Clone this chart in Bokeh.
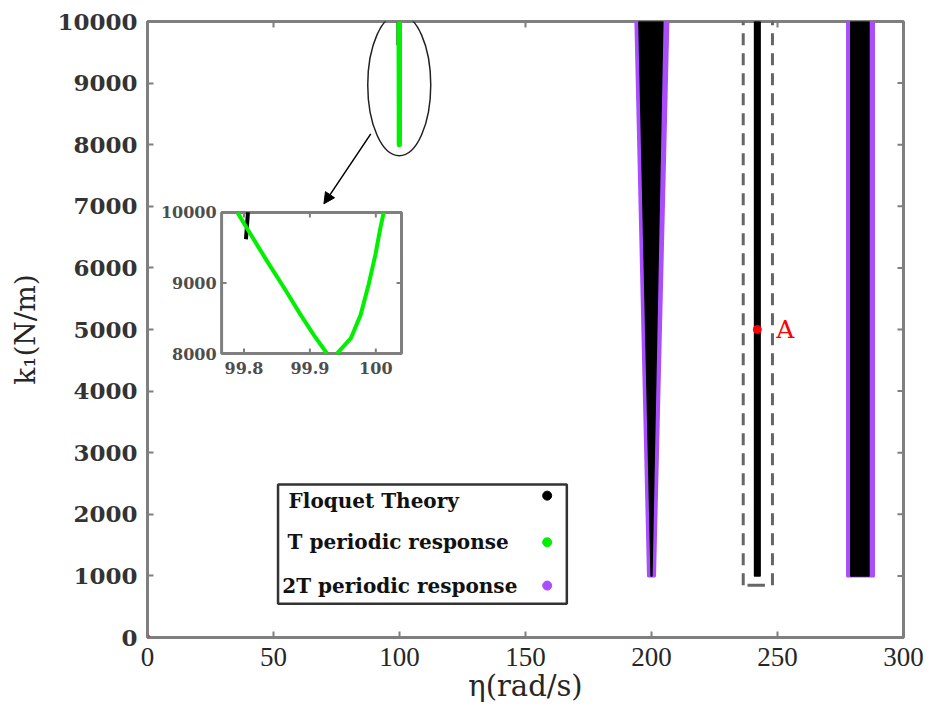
from bokeh.plotting import figure
from bokeh.models import Range1d, FixedTicker, Arrow, NormalHead, Label
from bokeh.core.properties import value
from bokeh.embed import file_html
from bokeh.resources import INLINE

# ---------------- data ----------------
x_ticks = [0, 50, 100, 150, 200, 250, 300]
y_ticks = [0, 1000, 2000, 3000, 4000, 5000, 6000, 7000, 8000, 9000, 10000]

# k1 at the lower and upper end of each unstable region
k_span = [1000, 10000]

# region around 200 rad/s: Floquet-unstable wedge and its 2T-periodic boundary
w200_floquet_left = [199.85, 195.0]
w200_floquet_right = [200.15, 204.5]
w200_2T_left = [198.8, 193.8]
w200_2T_right = [201.2, 206.5]

# narrow Floquet strip around 242 rad/s
w242_floquet_left = [240.9, 240.9]
w242_floquet_right = [243.1, 243.1]

# region around 283 rad/s
w283_floquet_left = [279.1, 279.1]
w283_floquet_right = [286.3, 286.3]
w283_2T_left = [277.8, 277.8]
w283_2T_right = [288.1, 288.1]

# T-periodic response near 100 rad/s (two branches)
t_left_eta = [99.790, 99.810, 99.835, 99.861, 99.886, 99.906, 99.926]
t_left_k = [10000, 9690, 9310, 8929, 8548, 8262, 8000]
t_right_eta = [99.941, 99.962, 99.977, 99.989, 99.9995, 100.007, 100.012]
t_right_k = [8000, 8214, 8548, 8976, 9405, 9786, 10000]

# short Floquet segment near 99.8 rad/s
floquet_100_eta = [99.806, 99.803]
floquet_100_k = [10000, 9620]

# marked operating point A and the origin marker
point_A_eta = [242.0]
point_A_k = [5000]
origin_eta = [0]
origin_k = [0]

# zoom window
inset_xlim = (99.766, 100.039)
inset_ylim = (8000, 10000)
inset_xticks = [99.8, 99.9, 100.0]
inset_xtick_labels = ["99.8", "99.9", "100"]
inset_yticks = [8000, 9000, 10000]
inset_ytick_labels = ["8000", "9000", "10000"]

legend_labels = ["Floquet Theory", "T periodic response", "2T periodic response"]

# ---------------- style / layout ----------------
BLACK = "#000000"
GREEN = "#00f000"
PURPLE = "#a94dff"
GRAY = "#7f7f7f"
TEXT = "#262626"

X_RANGE = (0, 300)
Y_RANGE = (0, 10000)
FRAME_W, FRAME_H = 756, 616
X_PER_PX = (X_RANGE[1] - X_RANGE[0]) / FRAME_W
Y_PER_PX = (Y_RANGE[1] - Y_RANGE[0]) / FRAME_H
TICK = 6

# inset placement inside the main axes (main-axis units)
INSET_BOX = dict(x0=29.4, x1=100.8, y0=4610, y1=6900)

# ellipse highlighting the 100 rad/s response
ELLIPSE = dict(x=99.9, y=8970, w=25, h=2300)
# arrow from ellipse to inset
ARROW = dict(x0=88.6, y0=8175, x1=70.0, y1=7040)
# dashed frame around the 242 rad/s strip
DBOX = dict(x0=236.4, x1=248.0, y0=850, y1=10115, hx0=238.1, hx1=245.0)

# legend box (main-axis units)
LEG = dict(x0=51.8, x1=166.4, y0=547, y1=2482,
           tx=[56.0, 55.6, 53.5], ty=[2222, 1546, 843],
           mx=158.6, my=[2303, 1546, 843])

p = figure(width=930, height=715,
           x_range=Range1d(*X_RANGE), y_range=Range1d(*Y_RANGE),
           output_backend="svg", toolbar_location=None,
           min_border_left=147, min_border_right=27,
           min_border_top=21, min_border_bottom=78)
p.background_fill_color = "white"
p.border_fill_color = "white"
p.xgrid.visible = False
p.ygrid.visible = False
p.outline_line_color = GRAY
p.outline_line_width = 3

# axes
p.xaxis.ticker = FixedTicker(ticks=x_ticks)
p.yaxis.ticker = FixedTicker(ticks=y_ticks)
for ax in (p.xaxis[0], p.yaxis[0]):
    ax.axis_line_color = None
    ax.major_tick_in = TICK
    ax.major_tick_out = 0
    ax.minor_tick_line_color = None
    ax.major_tick_line_color = GRAY
    ax.major_tick_line_width = 2
    ax.major_label_text_color = TEXT
    ax.axis_label_text_color = TEXT
    ax.axis_label_text_font_style = "normal"

p.xaxis.major_label_text_font = "Liberation Serif"
p.xaxis.major_label_text_font_size = "27px"
p.xaxis.major_label_standoff = 10
p.xaxis.axis_label = "η(rad/s)"
p.xaxis.axis_label_text_font = "DejaVu Serif"
p.xaxis.axis_label_text_font_size = "29px"
p.xaxis.axis_label_standoff = 0

p.yaxis.major_label_text_font = "DejaVu Serif"
p.yaxis.major_label_text_font_style = "bold"
p.yaxis.major_label_text_font_size = "23px"
p.yaxis.major_label_text_color = "#333333"
p.yaxis.major_label_standoff = 10
p.yaxis.axis_label = "k₁(N/m)"
p.yaxis.axis_label_text_font = "DejaVu Serif"
p.yaxis.axis_label_text_font_size = "28px"
p.yaxis.axis_label_standoff = 12

# mirrored tick marks along the top and right edges of the box
p.segment(x0=x_ticks, y0=[Y_RANGE[1]] * len(x_ticks),
          x1=x_ticks, y1=[Y_RANGE[1] - TICK * Y_PER_PX] * len(x_ticks),
          line_color=GRAY, line_width=2)
p.segment(x0=[X_RANGE[1]] * len(y_ticks), y0=y_ticks,
          x1=[X_RANGE[1] - TICK * X_PER_PX] * len(y_ticks), y1=y_ticks,
          line_color=GRAY, line_width=2)


def band(left, right):
    return left + right[::-1], k_span + k_span[::-1]


# 2T-periodic boundaries (purple), drawn under the Floquet regions
for l, r in ((w200_2T_left, w200_2T_right), (w283_2T_left, w283_2T_right)):
    xs, ys = band(l, r)
    p.patch(xs, ys, fill_color=PURPLE, line_color=PURPLE, line_width=3,
            line_join="round")

# Floquet unstable regions (black)
for l, r in ((w200_floquet_left, w200_floquet_right),
             (w242_floquet_left, w242_floquet_right),
             (w283_floquet_left, w283_floquet_right)):
    xs, ys = band(l, r)
    p.patch(xs, ys, fill_color=BLACK, line_color=BLACK, line_width=1.5,
            line_join="round")

# response near 100 rad/s on the main axes
p.line(floquet_100_eta, floquet_100_k, line_color=BLACK, line_width=5)
p.multi_line([t_left_eta, t_right_eta], [t_left_k, t_right_k],
             line_color=GREEN, line_width=5, line_cap="round")

# dashed frame around the 242 rad/s strip
p.segment(x0=[DBOX["x0"], DBOX["x1"]], y0=[DBOX["y0"], DBOX["y0"]],
          x1=[DBOX["x0"], DBOX["x1"]], y1=[DBOX["y1"], DBOX["y1"]],
          line_color="#666666", line_width=3, line_dash="12 8")
p.segment(x0=[DBOX["hx0"]], y0=[DBOX["y0"]], x1=[DBOX["hx1"]], y1=[DBOX["y0"]],
          line_color="#666666", line_width=3)
p.add_layout(Arrow(end=None, x_start=DBOX["hx0"], y_start=DBOX["y1"],
                   x_end=DBOX["hx1"], y_end=DBOX["y1"],
                   line_color="#666666", line_width=3))

# point A
p.scatter(point_A_eta, point_A_k, size=8, color="#ff0000")
p.add_layout(Label(x=point_A_eta[0], y=point_A_k[0], text="A", x_offset=19,
                   text_baseline="middle", text_color="#ff0000",
                   text_font="DejaVu Serif", text_font_size="25px"))

# ellipse and arrow pointing to the zoom window
p.ellipse(x=[ELLIPSE["x"]], y=[ELLIPSE["y"]], width=ELLIPSE["w"],
          height=ELLIPSE["h"], fill_color=None, line_color="#222222",
          line_width=1.5)
p.add_layout(Arrow(end=NormalHead(size=11, fill_color=BLACK, line_color=BLACK),
                   x_start=ARROW["x0"], y_start=ARROW["y0"],
                   x_end=ARROW["x1"], y_end=ARROW["y1"],
                   line_color=BLACK, line_width=1.5))

# ---------------- zoom window via extra ranges ----------------
bx0, bx1, by0, by1 = INSET_BOX["x0"], INSET_BOX["x1"], INSET_BOX["y0"], INSET_BOX["y1"]
sx = (inset_xlim[1] - inset_xlim[0]) / (bx1 - bx0)
sy = (inset_ylim[1] - inset_ylim[0]) / (by1 - by0)
p.extra_x_ranges = {"ix": Range1d(inset_xlim[0] - (bx0 - X_RANGE[0]) * sx,
                                  inset_xlim[1] + (X_RANGE[1] - bx1) * sx)}
p.extra_y_ranges = {"iy": Range1d(inset_ylim[0] - (by0 - Y_RANGE[0]) * sy,
                                  inset_ylim[1] + (Y_RANGE[1] - by1) * sy)}
ix_per_px = sx * X_PER_PX
iy_per_px = sy * Y_PER_PX
ITICK = 5
IR = dict(x_range_name="ix", y_range_name="iy")

p.quad(left=[inset_xlim[0]], right=[inset_xlim[1]],
       bottom=[inset_ylim[0]], top=[inset_ylim[1]],
       fill_color="white", line_color=GRAY, line_width=3, **IR)
# inset ticks (bottom/top, left/right)
p.segment(x0=inset_xticks * 2,
          y0=[inset_ylim[0]] * 3 + [inset_ylim[1]] * 3,
          x1=inset_xticks * 2,
          y1=[inset_ylim[0] + ITICK * iy_per_px] * 3 + [inset_ylim[1] - ITICK * iy_per_px] * 3,
          line_color=GRAY, line_width=2, **IR)
p.segment(x0=[inset_xlim[0]] * 3 + [inset_xlim[1]] * 3,
          y0=inset_yticks * 2,
          x1=[inset_xlim[0] + ITICK * ix_per_px] * 3 + [inset_xlim[1] - ITICK * ix_per_px] * 3,
          y1=inset_yticks * 2,
          line_color=GRAY, line_width=2, **IR)
p.text(x=inset_xticks, y=[inset_ylim[0]] * 3, text=inset_xtick_labels,
       text_align="center", text_baseline="top", y_offset=8,
       text_font=value("DejaVu Serif"), text_font_style="bold",
       text_font_size="16px", text_color="#4d4d4d", **IR)
p.text(x=[inset_xlim[0]] * 3, y=inset_yticks, text=inset_ytick_labels,
       text_align="right", text_baseline="middle", x_offset=-5,
       text_font=value("DejaVu Serif"), text_font_style="bold",
       text_font_size="16px", text_color="#4d4d4d", **IR)
# inset curves
p.line(floquet_100_eta, floquet_100_k, line_color=BLACK, line_width=4, **IR)
p.multi_line([t_left_eta, t_right_eta], [t_left_k, t_right_k],
             line_color=GREEN, line_width=4, line_join="round", **IR)

# ---------------- legend ----------------
p.quad(left=[LEG["x0"]], right=[LEG["x1"]], bottom=[LEG["y0"]], top=[LEG["y1"]],
       fill_color="white", line_color="#333333", line_width=2.5)
p.text(x=LEG["tx"], y=LEG["ty"], text=legend_labels, text_baseline="middle",
       text_font=value("DejaVu Serif"), text_font_style="bold",
       text_font_size="20px", text_color="#111111")
p.scatter(x=[LEG["mx"]] * 3, y=LEG["my"], size=9,
          color=[BLACK, GREEN, PURPLE])

# red marker at the origin, drawn last so it sits over the box edge
p.scatter(origin_eta, origin_k, size=5, color="#ff0000")

open("out.html", "w").write(file_html(p, INLINE))
